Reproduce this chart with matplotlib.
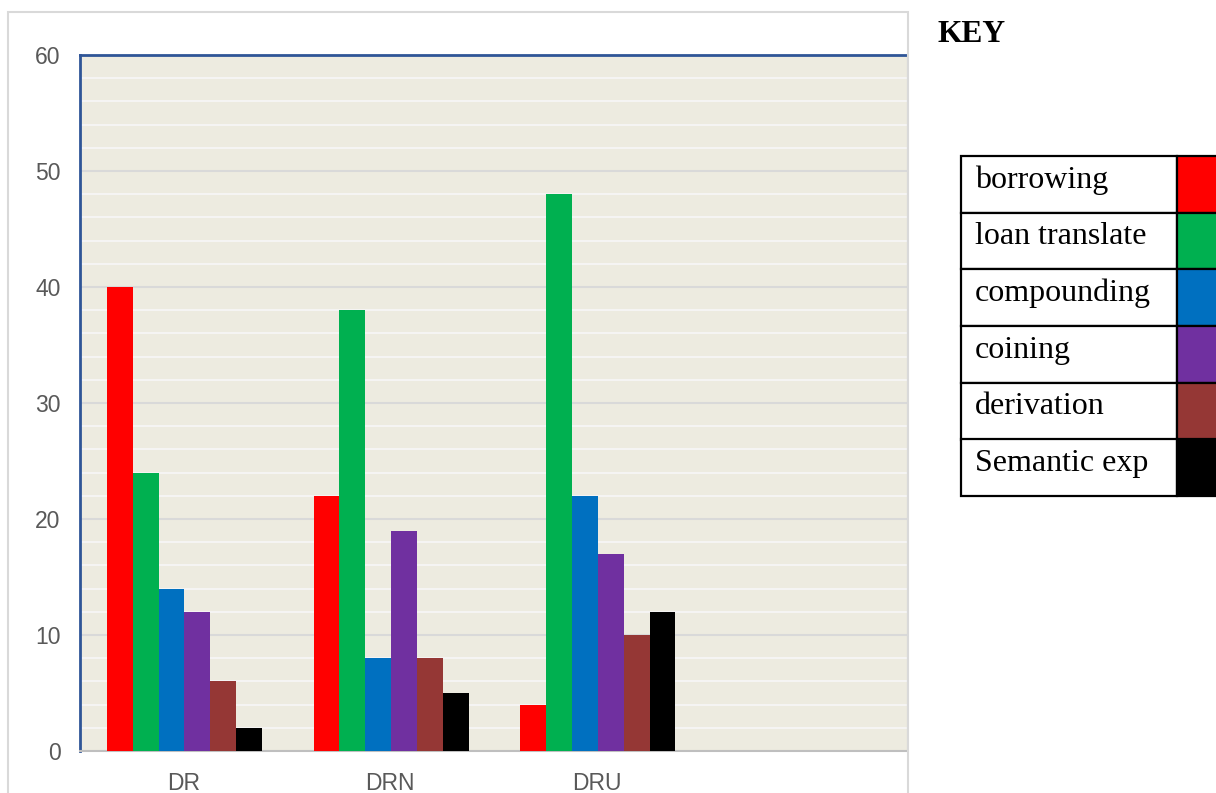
import numpy as np
import matplotlib.pyplot as plt
from matplotlib.patches import Rectangle

# word formation processes per source
categories = ['DR', 'DRN', 'DRU', '']
processes = ['borrowing', 'loan translate', 'compounding', 'coining',
             'derivation', 'Semantic exp']
colors = ['#FF0000', '#00B050', '#0070C0', '#7030A0', '#953735', '#000000']

borrowing = [40, 22, 4]
loan_translate = [24, 38, 48]
compounding = [14, 8, 22]
coining = [12, 19, 17]
derivation = [6, 8, 10]
semantic_exp = [2, 5, 12]
series = [borrowing, loan_translate, compounding, coining, derivation, semantic_exp]

W, H = 1216, 793
fig = plt.figure(figsize=(W / 100, H / 100), dpi=100)

# light frame around the chart area
fig.add_artist(Rectangle((8 / W, -0.1), 900 / W, 1.1 - 12 / H,
                         transform=fig.transFigure, fill=False,
                         edgecolor='#D9D9D9', linewidth=1.5))

ax = fig.add_axes([80 / W, 1 - 751 / H, 827 / W, 696 / H])
ax.set_facecolor('#EDEBE0')

n = len(series)
group_w = 0.75
bar_w = group_w / n
x = np.arange(len(categories))
for i, (vals, col) in enumerate(zip(series, colors)):
    xs = x[:len(vals)] - group_w / 2 + bar_w * (i + 0.5) + 0.005
    ax.bar(xs, vals, width=bar_w, color=col, zorder=3, linewidth=0)

ax.set_xlim(-0.5, len(categories) - 0.5)
ax.set_ylim(0, 60)
ax.set_yticks(np.arange(0, 61, 10))
ax.set_yticks(np.arange(0, 61, 2), minor=True)
ax.grid(axis='y', which='minor', color='#F7F7F7', linewidth=1.2, zorder=1)
ax.grid(axis='y', which='major', color='#D9D9D9', linewidth=1.5, zorder=2)
ax.set_xticks(x)
ax.set_xticklabels(categories)
ax.tick_params(axis='both', which='both', length=0, labelsize=16.5,
               labelcolor='#595959', labelfontfamily='Liberation Sans')
ax.tick_params(axis='y', pad=14)
ax.tick_params(axis='x', pad=15)

for side in ('left', 'top'):
    ax.spines[side].set_color('#2F5597')
    ax.spines[side].set_linewidth(2)
ax.spines['right'].set_color('#D0D0D0')
ax.spines['bottom'].set_color('#BFBFBF')
ax.spines['bottom'].set_linewidth(1.5)

# key table on the right
fig.text(937 / W, 1 - 34 / H, 'KEY', family='Liberation Serif',
         fontweight='bold', fontsize=22.7, va='center', ha='left')

tx0, tx1, tx2 = 961, 1177, 1240
ty0, row_h = 156, 56.7
for i, (name, col) in enumerate(zip(processes, colors)):
    top = ty0 + i * row_h
    fig.add_artist(Rectangle((tx0 / W, 1 - (top + row_h) / H), (tx1 - tx0) / W,
                             row_h / H, transform=fig.transFigure,
                             facecolor='white', edgecolor='black', linewidth=1.6))
    fig.add_artist(Rectangle((tx1 / W, 1 - (top + row_h) / H), (tx2 - tx1) / W,
                             row_h / H, transform=fig.transFigure,
                             facecolor=col, edgecolor='black', linewidth=1.6))
    fig.text(975 / W, 1 - (top + 24) / H, name, family='Liberation Serif',
             fontsize=23, va='center', ha='left')

fig.savefig('out.png', dpi=100)
